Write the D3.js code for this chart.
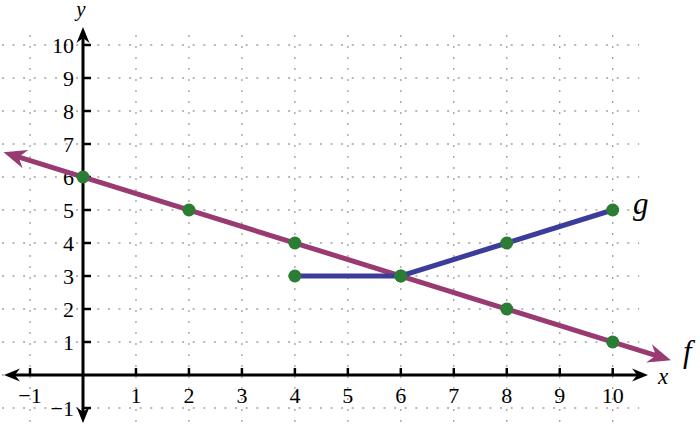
<!DOCTYPE html>
<html>
<head>
<meta charset="utf-8">
<script src="https://cdn.jsdelivr.net/npm/d3@7/dist/d3.min.js"></script>
</head>
<body style="margin:0">
<script>
// data
var xTicks = [-1, 1, 2, 3, 4, 5, 6, 7, 8, 9, 10];
var yTicks = [-1, 1, 2, 3, 4, 5, 6, 7, 8, 9, 10];
var gridX = [-1, 0, 1, 2, 3, 4, 5, 6, 7, 8, 9, 10];
var gridY = [-1, 0, 1, 2, 3, 4, 5, 6, 7, 8, 9, 10];
var fPoints = [[0, 6], [2, 5], [4, 4], [6, 3], [8, 2], [10, 1]];
var fEnds = [[-1.5, 6.75], [11.1, 0.45]];
var gPoints = [[4, 3], [6, 3], [8, 4], [10, 5]];

var width = 700, height = 428;
var fColor = "#993a72", gColor = "#3c3c9b", dotColor = "#2a7d32";
var fontFam = "Liberation Serif";

var svg = d3.select("body").append("svg")
    .attr("width", width)
    .attr("height", height);

var x = d3.scaleLinear().domain([0, 10]).range([83, 612.7]);
var y = d3.scaleLinear().domain([0, 10]).range([375, 45]);

// dotted grid
var grid = svg.append("g").attr("stroke", "#a0a0a0").attr("stroke-width", 1.3);
grid.selectAll("line.gy")
    .data(gridY)
    .enter().append("line")
    .attr("x1", x(-1.55)).attr("x2", x(10.5))
    .attr("y1", function (d) { return y(d); })
    .attr("y2", function (d) { return y(d); })
    .attr("stroke-dasharray", "2,8.6")
    .attr("stroke-dashoffset", -1);
grid.selectAll("line.gx")
    .data(gridX)
    .enter().append("line")
    .attr("y1", y(10.3)).attr("y2", y(-1.55))
    .attr("x1", function (d) { return x(d); })
    .attr("x2", function (d) { return x(d); })
    .attr("stroke-dasharray", "2,9");

// arrow head at (x2,y2) pointing along (x1,y1)->(x2,y2)
function arrowHead(g, x1, y1, x2, y2, len, wid, color) {
    var a = Math.atan2(y2 - y1, x2 - x1) * 180 / Math.PI;
    g.append("path")
        .attr("d", "M0,0 L" + (-len) + "," + (-wid / 2) + " L" + (-len * 0.68) + ",0 L" + (-len) + "," + (wid / 2) + " Z")
        .attr("fill", color)
        .attr("transform", "translate(" + x2 + "," + y2 + ") rotate(" + a + ")");
}

// axes
var axes = svg.append("g");
var ax0 = 4, ax1 = 648, ay0 = 27, ay1 = 423;
axes.append("line")
    .attr("x1", ax0 + 6).attr("x2", ax1 - 6)
    .attr("y1", y(0)).attr("y2", y(0))
    .attr("stroke", "#000").attr("stroke-width", 3);
axes.append("line")
    .attr("y1", ay0 + 6).attr("y2", ay1 - 6)
    .attr("x1", x(0)).attr("x2", x(0))
    .attr("stroke", "#000").attr("stroke-width", 3);
arrowHead(axes, x(0), y(0), ax1, y(0), 16, 13, "#000");
arrowHead(axes, x(0), y(0), ax0, y(0), 16, 13, "#000");
arrowHead(axes, x(0), y(0), x(0), ay0, 16, 13, "#000");
arrowHead(axes, x(0), y(0), x(0), ay1, 16, 13, "#000");

axes.selectAll("line.tx")
    .data(xTicks)
    .enter().append("line")
    .attr("x1", function (d) { return x(d); })
    .attr("x2", function (d) { return x(d); })
    .attr("y1", y(0) - 7).attr("y2", y(0))
    .attr("stroke", "#000").attr("stroke-width", 2.5);
axes.selectAll("line.ty")
    .data(yTicks)
    .enter().append("line")
    .attr("y1", function (d) { return y(d); })
    .attr("y2", function (d) { return y(d); })
    .attr("x1", x(0)).attr("x2", x(0) + 8)
    .attr("stroke", "#000").attr("stroke-width", 2.5);

axes.selectAll("text.tx")
    .data(xTicks)
    .enter().append("text")
    .attr("x", function (d) { return x(d); })
    .attr("y", y(0) + 28)
    .attr("text-anchor", "middle")
    .attr("font-size", 22)
    .style("font-family", fontFam)
    .text(function (d) { return d < 0 ? "\u2212" + (-d) : String(d); });
axes.selectAll("text.ty")
    .data(yTicks)
    .enter().append("text")
    .attr("x", x(0) - 9)
    .attr("y", function (d) { return y(d) + 7.5; })
    .attr("text-anchor", "end")
    .attr("font-size", 22)
    .style("font-family", fontFam)
    .text(function (d) { return d < 0 ? "\u2212" + (-d) : String(d); });

axes.append("text")
    .attr("x", 663).attr("y", 384)
    .attr("text-anchor", "middle")
    .attr("font-size", 23)
    .style("font-family", fontFam).style("font-style", "italic")
    .text("x");
axes.append("text")
    .attr("x", x(0) - 2).attr("y", 16)
    .attr("text-anchor", "middle")
    .attr("font-size", 21)
    .style("font-family", fontFam).style("font-style", "italic")
    .text("y");

// line f with arrows
var line = d3.line()
    .x(function (d) { return x(d[0]); })
    .y(function (d) { return y(d[1]); });

var fg = svg.append("g");
var fx0 = x(fEnds[0][0]), fy0 = y(fEnds[0][1]), fx1 = x(fEnds[1][0]), fy1 = y(fEnds[1][1]);
var ux = (fx1 - fx0), uy = (fy1 - fy0), ul = Math.sqrt(ux * ux + uy * uy);
ux /= ul; uy /= ul;
fg.append("line")
    .attr("x1", fx0 + ux * 12).attr("y1", fy0 + uy * 12)
    .attr("x2", fx1 - ux * 12).attr("y2", fy1 - uy * 12)
    .attr("stroke", fColor).attr("stroke-width", 5);
arrowHead(fg, fx0, fy0, fx1, fy1, 23, 19, fColor);
arrowHead(fg, fx1, fy1, fx0, fy0, 23, 19, fColor);

// line g
svg.append("path")
    .datum(gPoints)
    .attr("d", line)
    .attr("fill", "none")
    .attr("stroke", gColor)
    .attr("stroke-width", 5);

// dots
svg.append("g").selectAll("circle")
    .data(fPoints.concat(gPoints))
    .enter().append("circle")
    .attr("cx", function (d) { return x(d[0]); })
    .attr("cy", function (d) { return y(d[1]); })
    .attr("r", 6.5)
    .attr("fill", dotColor);

// labels
svg.append("text")
    .attr("x", 683).attr("y", 362)
    .attr("font-size", 31)
    .style("font-family", fontFam).style("font-style", "italic")
    .text("f");
svg.append("text")
    .attr("x", 633).attr("y", 214)
    .attr("font-size", 31)
    .style("font-family", fontFam).style("font-style", "italic")
    .text("g");
</script>
</body>
</html>
